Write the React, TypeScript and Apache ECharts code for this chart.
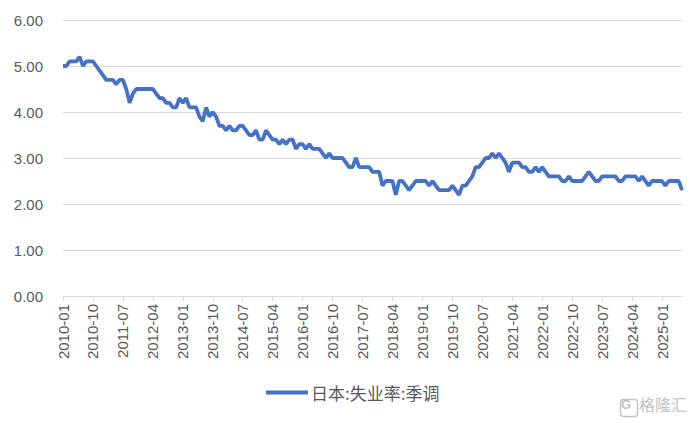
import React, { useEffect, useRef } from "react";
import * as echarts from "echarts";

const startYear = 2010;
const monthCount = 187;

const y2010 = [5.0, 5.0, 5.1, 5.1, 5.1, 5.2, 5.0, 5.1, 5.1, 5.1, 5.0, 4.9];
const y2011 = [4.8, 4.7, 4.7, 4.7, 4.6, 4.7, 4.7, 4.5, 4.2, 4.4, 4.5, 4.5];
const y2012 = [4.5, 4.5, 4.5, 4.5, 4.4, 4.3, 4.3, 4.2, 4.2, 4.1, 4.1, 4.3];
const y2013 = [4.2, 4.3, 4.1, 4.1, 4.1, 3.9, 3.8, 4.1, 3.9, 4.0, 3.9, 3.7];
const y2014 = [3.7, 3.6, 3.7, 3.6, 3.6, 3.7, 3.7, 3.6, 3.5, 3.5, 3.6, 3.4];
const y2015 = [3.4, 3.6, 3.5, 3.4, 3.4, 3.3, 3.4, 3.3, 3.4, 3.4, 3.2, 3.3];
const y2016 = [3.3, 3.2, 3.3, 3.2, 3.2, 3.2, 3.1, 3.0, 3.1, 3.0, 3.0, 3.0];
const y2017 = [3.0, 2.9, 2.8, 2.8, 3.0, 2.8, 2.8, 2.8, 2.8, 2.7, 2.7, 2.7];
const y2018 = [2.4, 2.5, 2.5, 2.5, 2.2, 2.5, 2.5, 2.4, 2.3, 2.4, 2.5, 2.5];
const y2019 = [2.5, 2.5, 2.4, 2.5, 2.4, 2.3, 2.3, 2.3, 2.3, 2.4, 2.3, 2.2];
const y2020 = [2.4, 2.4, 2.5, 2.6, 2.8, 2.8, 2.9, 3.0, 3.0, 3.1, 3.0, 3.1];
const y2021 = [3.0, 2.9, 2.7, 2.9, 2.9, 2.9, 2.8, 2.8, 2.7, 2.7, 2.8, 2.7];
const y2022 = [2.8, 2.7, 2.6, 2.6, 2.6, 2.6, 2.5, 2.5, 2.6, 2.5, 2.5, 2.5];
const y2023 = [2.5, 2.6, 2.7, 2.6, 2.5, 2.5, 2.6, 2.6, 2.6, 2.6, 2.6, 2.5];
const y2024 = [2.5, 2.6, 2.6, 2.6, 2.6, 2.5, 2.6, 2.5, 2.4, 2.5, 2.5, 2.5];
const y2025 = [2.5, 2.4, 2.5, 2.5, 2.5, 2.5, 2.3];

const seriesName = "日本:失业率:季调";
const watermark = "格隆汇";
const yTicks = [0, 1, 2, 3, 4, 5, 6];

const values = [
  ...y2010, ...y2011, ...y2012, ...y2013, ...y2014, ...y2015, ...y2016, ...y2017,
  ...y2018, ...y2019, ...y2020, ...y2021, ...y2022, ...y2023, ...y2024, ...y2025,
];

const categories: string[] = [];
for (let i = 0; i < monthCount; i++) {
  const y = startYear + Math.floor(i / 12);
  const m = (i % 12) + 1;
  categories.push(`${y}-${m < 10 ? "0" + m : m}`);
}

export default function App() {
  const ref = useRef<HTMLDivElement>(null);
  useEffect(() => {
    if (!ref.current) return;
    const chart = echarts.init(ref.current, undefined, { renderer: "svg" });
    chart.setOption({
      animation: false,
      backgroundColor: "#ffffff",
      grid: { left: 63, right: 10, top: 20, bottom: 127 },
      legend: {
        top: 384,
        left: 266,
        padding: 0,
        icon: "rect",
        itemWidth: 42,
        itemHeight: 4,
        itemGap: 6,
        textStyle: {
          color: "#595959",
          fontSize: 17,
          padding: [0, 0, 0, -2],
          fontFamily: "Noto Sans CJK SC",
        },
        data: [seriesName],
      },
      xAxis: {
        type: "category",
        data: categories,
        boundaryGap: false,
        axisLine: { lineStyle: { color: "#d9d9d9", width: 1 } },
        axisTick: { interval: 8, length: 5, lineStyle: { color: "#d9d9d9" } },
        axisLabel: {
          interval: 8,
          rotate: 90,
          color: "#595959",
          fontSize: 15,
          margin: 8,
          fontFamily: "Liberation Sans",
        },
        splitLine: { show: false },
      },
      yAxis: {
        type: "value",
        min: yTicks[0],
        max: yTicks[yTicks.length - 1],
        interval: 1,
        axisLine: { show: false },
        axisTick: { show: false },
        axisLabel: {
          color: "#595959",
          fontSize: 15,
          margin: 20,
          fontFamily: "Liberation Sans",
          formatter: (v: number) => v.toFixed(2),
        },
        splitLine: { lineStyle: { color: "#d9d9d9", width: 1 } },
      },
      series: [
        {
          name: seriesName,
          type: "line",
          data: values,
          showSymbol: false,
          symbol: "none",
          lineStyle: { color: "#4472C4", width: 3.8 },
          itemStyle: { color: "#4472C4" },
        },
      ],
      graphic: [
        {
          type: "rect",
          left: 618,
          top: 397,
          shape: { width: 17, height: 17, r: 3 },
          style: { fill: "none", stroke: "#c4c4c4", lineWidth: 1.5 },
        },
        {
          type: "text",
          left: 621,
          top: 398,
          style: { text: "G", fill: "#c4c4c4", fontSize: 13, fontWeight: "bold", fontFamily: "Liberation Sans" },
        },
        {
          type: "text",
          left: 639,
          top: 396,
          style: { text: watermark, fill: "#c4c4c4", fontSize: 16, fontFamily: "Noto Sans CJK SC" },
        },
      ],
    });
    return () => chart.dispose();
  }, []);
  return (
    <div
      ref={ref}
      style={{ position: "fixed", left: 0, top: 0, width: 692, height: 423 }}
    />
  );
}
